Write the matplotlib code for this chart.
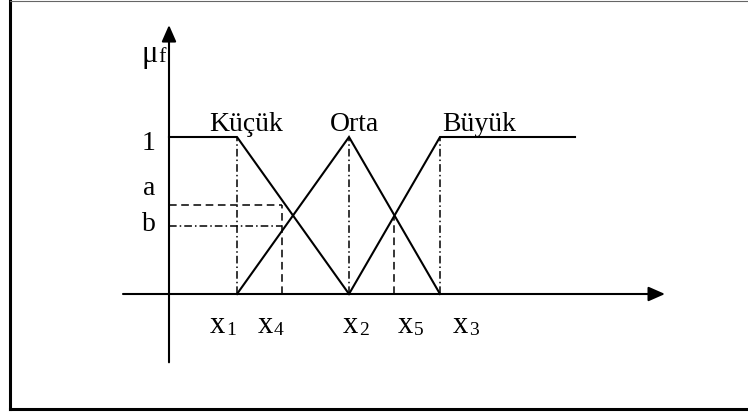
import matplotlib
matplotlib.use("Agg")
import matplotlib.pyplot as plt
from matplotlib.lines import Line2D

plt.rcParams["font.family"] = ["Liberation Serif", "DejaVu Serif"]

# universe positions (drawing units) and membership levels
x1, x4, x2, x5, x3 = 68, 113, 180, 225, 271
x_end = 406
a_level = 0.57
b_level = 0.43
cross_level = 0.5

# fuzzy sets
kucuk_x = [0, x1, x2]
kucuk_y = [1, 1, 0]
orta_x = [x1, x2, x3]
orta_y = [0, 1, 0]
buyuk_x = [x2, x3, x_end]
buyuk_y = [0, 1, 1]

set_names = ["Küçük", "Orta", "Büyük"]
set_label_x = [77.5, 185.5, 310]

x_tick_names = ["1", "4", "2", "5", "3"]
x_tick_left = [41, 89, 174, 229, 284]
y_tick_names = ["1", "a", "b"]
y_tick_vals = [0.917, 0.631, 0.401]

W, H = 748, 413
ORIG_X, ORIG_Y = 169, 294   # pixel position of the origin
PX = 157                    # pixels per membership unit

fig = plt.figure(figsize=(W / 100, H / 100), dpi=100)
ax = fig.add_axes([0, 0, 1, 1])
ax.set_xlim(-ORIG_X, W - ORIG_X)
ax.set_ylim(-(H - ORIG_Y) / PX, ORIG_Y / PX)
ax.axis("off")

# axes with arrow heads
arrow = dict(arrowstyle="-|>,head_length=0.5,head_width=0.22", lw=1.5,
             color="k", mutation_scale=20, shrinkA=0, shrinkB=0)
ax.annotate("", xy=(496, 0), xytext=(-46, 0), arrowprops=arrow)
ax.annotate("", xy=(0, 1.713), xytext=(0, -0.435), arrowprops=arrow)

# membership functions
for xs, ys in [(kucuk_x, kucuk_y), (orta_x, orta_y), (buyuk_x, buyuk_y)]:
    ax.plot(xs, ys, color="k", lw=1.5, solid_joinstyle="miter")

dashdot = (5, 2, 1, 2)
dashed = (5, 3)
for xv in [x1, x2, x3]:
    ax.plot([xv, xv], [0, 1], color="k", lw=1.1, dashes=dashdot)
ax.plot([x4, x4], [0, a_level], color="k", lw=1.1, dashes=dashed)
ax.plot([x5, x5], [0, cross_level], color="k", lw=1.1, dashes=dashed)
ax.plot([0, x4], [a_level, a_level], color="k", lw=1.1, dashes=dashed)
ax.plot([0, x4], [b_level, b_level], color="k", lw=1.1, dashes=dashdot)

# labels
for name, xv in zip(set_names, set_label_x):
    ax.text(xv, 1.038, name, ha="center", va="baseline", fontsize=20)

for name, yv in zip(y_tick_names, y_tick_vals):
    ax.text(-20, yv, name, ha="center", va="baseline", fontsize=20)

for sub, xl in zip(x_tick_names, x_tick_left):
    ax.text(xl, -39 / PX, "x", ha="left", va="baseline", fontsize=22)
    ax.text(xl + 16, -41 / PX, sub, ha="left", va="baseline", fontsize=14)

ax.text(-27, 232 / PX, "μ", ha="left", va="baseline", fontsize=22)
ax.text(-11, 232 / PX, "f", ha="left", va="baseline", fontsize=16)

# frame around the picture
fig.add_artist(Line2D([9.5 / W, 9.5 / W], [1 - 1 / H, 1 - 408.5 / H],
                      transform=fig.transFigure, color="k", lw=2.2))
fig.add_artist(Line2D([9.5 / W, 1], [1 - 408.5 / H, 1 - 408.5 / H],
                      transform=fig.transFigure, color="k", lw=2.2))
fig.add_artist(Line2D([9.5 / W, 1], [1 - 1 / H, 1 - 1 / H],
                      transform=fig.transFigure, color="0.4", lw=0.8))

fig.savefig("out.png", dpi=100)
